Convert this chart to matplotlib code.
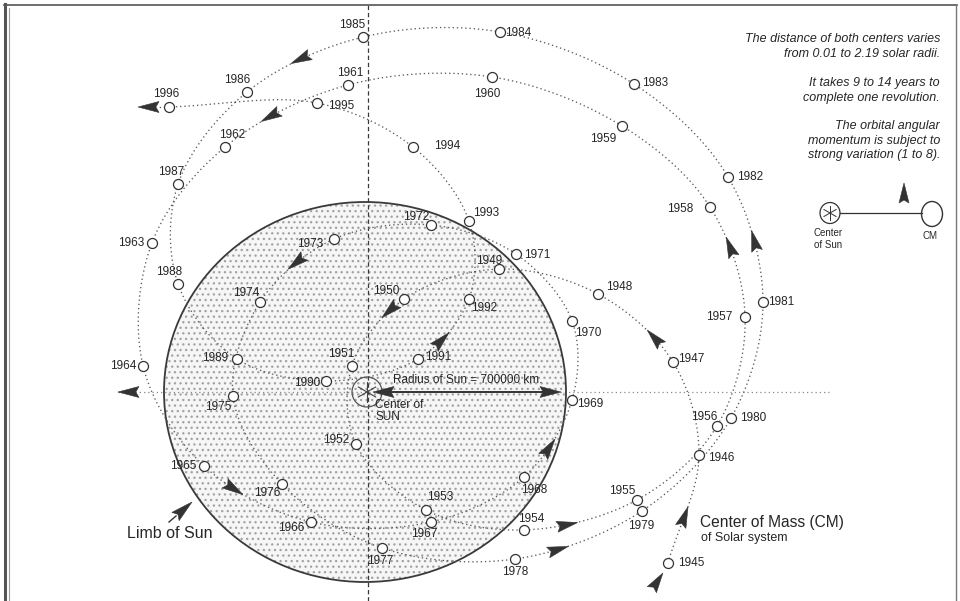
import numpy as np
import matplotlib
matplotlib.use("Agg")
import matplotlib.pyplot as plt
from matplotlib.patches import Circle, Ellipse, Polygon
from matplotlib.lines import Line2D

plt.rcParams["font.family"] = ["Liberation Sans", "DejaVu Sans"]
plt.rcParams["hatch.linewidth"] = 0.9

# Position of the centre of mass of the solar system relative to the
# centre of the Sun, in solar radii (x to the right, y upward), 1945-1996.
years = list(range(1945, 1997))
cm_x = [1.507, 1.662, 1.532, 1.159, 0.667, 0.194, -0.065, -0.045, 0.303, 0.791,
        1.353, 1.751, 1.891, 1.716, 1.279, 0.632, -0.085, -0.697, -1.060, -1.104,
        -0.801, -0.269, 0.328, 0.791, 1.030, 1.030, 0.751, 0.328, -0.154, -0.522,
        -0.657, -0.413, 0.085, 0.746, 1.378, 1.821, 1.980, 1.806, 1.338, 0.672,
        -0.010, -0.587, -0.930, -0.930, -0.637, -0.194, 0.264, 0.517, 0.517, 0.239,
        -0.239, -0.975]
cm_y = [-0.900, -0.332, 0.158, 0.516, 0.647, 0.489, 0.137, -0.274, -0.621, -0.726,
        -0.568, -0.179, 0.395, 0.974, 1.400, 1.658, 1.616, 1.289, 0.784, 0.137,
        -0.389, -0.684, -0.684, -0.447, -0.042, 0.374, 0.726, 0.879, 0.805, 0.474,
        -0.021, -0.484, -0.821, -0.879, -0.626, -0.137, 0.474, 1.132, 1.621, 1.895,
        1.868, 1.579, 1.095, 0.568, 0.174, 0.058, 0.174, 0.489, 0.900, 1.289,
        1.521, 1.500]

# Year label placement, pixel offset from the marker (right, down)
label_offset = {
    1945: (23, 0), 1946: (22, 3), 1947: (18, -3), 1948: (21, -7), 1949: (-10, -8),
    1950: (-18, -8), 1951: (-11, -12), 1952: (-20, -4), 1953: (14, -13), 1954: (7, -11),
    1955: (-15, -9), 1956: (-13, -9), 1957: (-26, 0), 1958: (-30, 2), 1959: (-19, 13),
    1960: (-5, 17), 1961: (2, -12), 1962: (7, -12), 1963: (-21, 0), 1964: (-20, 0),
    1965: (-21, 0), 1966: (-20, 6), 1967: (-7, 12), 1968: (10, 13), 1969: (18, 4),
    1970: (16, 12), 1971: (21, 1), 1972: (-15, -8), 1973: (-24, 5), 1974: (-14, -9),
    1975: (-15, 11), 1976: (-15, 9), 1977: (-2, 13), 1978: (0, 13), 1979: (-1, 15),
    1980: (22, 0), 1981: (18, 0), 1982: (22, 0), 1983: (21, -1), 1984: (18, 1),
    1985: (-11, -12), 1986: (-10, -12), 1987: (-7, -12), 1988: (-9, -12), 1989: (-22, -1),
    1990: (-19, 2), 1991: (20, -2), 1992: (15, 9), 1993: (17, -8), 1994: (34, -1),
    1995: (24, 3), 1996: (-3, -13),
}

# Direction arrows: (year at start of the stretch, fraction along it)
direction_marks = [(1945, 0.43), (1947, 0.31), (1950, 0.22), (1954, 0.38),
                   (1957, 0.62), (1961, 0.6), (1965, 0.32), (1968, 0.42),
                   (1973, 0.46), (1978, 0.33), (1981, 0.48), (1985, 0.51),
                   (1991, 0.38)]

INK = "#262626"
ARROW = "#333333"
W, H = 960, 601

fig = plt.figure(figsize=(W / 100, H / 100), dpi=100)
ax = fig.add_axes([0, 0, 1, 1])
# 1 solar radius = 201 px horizontally, 190 px vertically
ax.set_xlim(-365 / 201, (W - 365) / 201)
ax.set_ylim((392 - H) / 190, 392 / 190)
ax.axis("off")
fig.canvas.draw()

to_px = ax.transData.transform
to_data = ax.transData.inverted().transform


def arrow_head(tip_px, direction, length=20, half=5.0, color=ARROW, z=6):
    d = np.asarray(direction, float)
    d = d / np.hypot(*d)
    n = np.array([-d[1], d[0]])
    tip = np.asarray(tip_px, float)
    base = tip - d * length
    notch = tip - d * length * 0.85
    verts = np.array([tip, base + n * half, notch, base - n * half])
    ax.add_patch(Polygon(to_data(verts), closed=True, facecolor=color,
                         edgecolor=color, lw=0.4, zorder=z))


def cr_segment(p0, p1, p2, p3, u, alpha=0.5):
    def nxt(t, a, b):
        return t + max(np.hypot(*(b - a)), 1e-6) ** alpha
    t0 = 0.0
    t1 = nxt(t0, p0, p1)
    t2 = nxt(t1, p1, p2)
    t3 = nxt(t2, p2, p3)
    t = (t1 + (t2 - t1) * np.asarray(u, float))[:, None]
    a1 = (t1 - t) / (t1 - t0) * p0 + (t - t0) / (t1 - t0) * p1
    a2 = (t2 - t) / (t2 - t1) * p1 + (t - t1) / (t2 - t1) * p2
    a3 = (t3 - t) / (t3 - t2) * p2 + (t - t2) / (t3 - t2) * p3
    b1 = (t2 - t) / (t2 - t0) * a1 + (t - t0) / (t2 - t0) * a2
    b2 = (t3 - t) / (t3 - t1) * a2 + (t - t1) / (t3 - t1) * a3
    return (t2 - t) / (t2 - t1) * b1 + (t - t1) / (t2 - t1) * b2


pts = to_px(np.column_stack([cm_x, cm_y]))
ext = np.vstack([2 * pts[0] - pts[1], pts, 2 * pts[-1] - pts[-2]])


def segment(i, u):
    return cr_segment(*ext[i:i + 4], u)


# ---- Sun disk -------------------------------------------------------------
ax.add_patch(Circle((0, 0), 1, facecolor="#f6f6f6", edgecolor="#a2a2a2",
                    lw=0, hatch="...", zorder=1))
ax.add_patch(Circle((0, 0), 1, facecolor="none", edgecolor="#3a3a3a",
                    lw=1.3, zorder=3))

# ---- reference axes through the Sun's centre -----------------------------
ax.plot([0.015, 0.015], [(392 - H) / 190, 387 / 190], color="#3a3a3a",
        lw=0.9, ls=(0, (3.5, 2.2)), zorder=2)
ax.plot([-1.229, 2.323], [0, 0], color="#8a8a8a", lw=0.9, ls=(0, (1, 2.4)),
        zorder=2)
p0 = to_px([[-1.229, 0]])[0]
arrow_head(p0, (-1, 0), length=21, half=5.5)

# ---- orbit of the centre of mass -----------------------------------------
u = np.linspace(0, 1, 40)
curve = np.vstack([segment(i, u) for i in range(len(years) - 1)])
cdat = to_data(curve)
ax.plot(cdat[:, 0], cdat[:, 1], color="#5a5a5a", lw=0.95,
        ls=(0, (1, 2.2)), zorder=4)

# lead-out after the last year
last = pts[-1]
tail_end = last + np.array([-11, 0])
td = to_data(np.array([last, tail_end]))
ax.plot(td[:, 0], td[:, 1], color="#5a5a5a", lw=0.95, ls=(0, (1, 2.2)), zorder=4)
arrow_head(last + np.array([-31, 0]), (-1, 0), length=21, half=5.5)

# lead-in towards the first year
arrow_head(pts[0] + np.array([-5, -10]), (0.55, 0.83), length=20, half=5.5)

for yr, frac in direction_marks:
    i = years.index(yr)
    a = segment(i, [frac - 0.04, frac + 0.04])
    mid = segment(i, [frac])[0]
    d = a[1] - a[0]
    d = d / np.hypot(*d)
    arrow_head(mid + d * 10, d, length=21, half=5.5)

ax.plot(cm_x, cm_y, ls="none", marker="o", ms=7.2, mfc="white",
        mec="#333333", mew=0.9, zorder=5)

for yr, x, y in zip(years, cm_x, cm_y):
    dx, dy = label_offset[yr]
    ax.annotate(str(yr), (x, y), xytext=(dx, -dy), textcoords="offset pixels",
                ha="center", va="center", fontsize=8.5, color=INK, zorder=7)

# ---- centre of the Sun ----------------------------------------------------
cx = 0.01
ax.add_patch(Ellipse((cx, 0), 30 / 201, 30 / 190, facecolor="none",
                     edgecolor="#555555", lw=0.9, zorder=6))
cpx = to_px([[cx, 0]])[0]
for ang in (90, 30, 150):
    v = np.array([np.cos(np.radians(ang)), np.sin(np.radians(ang))]) * 10
    seg = to_data(np.array([cpx - v, cpx + v]))
    ax.plot(seg[:, 0], seg[:, 1], color="#444444", lw=0.8, zorder=6)

# radius of the Sun
r0 = to_px([[cx, 0]])[0] + [6, 0]
r1 = to_px([[1, 0]])[0] - [5, 0]
rl = to_data(np.array([r0 + [18, 0], r1 - [18, 0]]))
ax.plot(rl[:, 0], rl[:, 1], color="#333333", lw=1.4, zorder=6)
arrow_head(r0, (-1, 0), length=21, half=5.5)
arrow_head(r1, (1, 0), length=21, half=5.5)
ax.annotate("Radius of Sun = 700000 km.", (0.5, 0), xytext=(2.5, 12),
            textcoords="offset pixels", ha="center", va="center",
            fontsize=8.5, color=INK, zorder=7)
ax.annotate("Center of\nSUN", (cx, 0), xytext=(8, -19), textcoords="offset pixels",
            ha="left", va="center", fontsize=8.5, color=INK, linespacing=1.0,
            zorder=7)

# ---- annotations ---------------------------------------------------------
fig.text(170 / W, 1 - 534 / H, "Limb of Sun", ha="center", va="center",
         fontsize=11.5, color=INK)
arrow_head(np.array([192, H - 502.0]), (0.75, 0.66), length=22, half=5.5)
ax.add_line(Line2D([169, 176], [H - 522, H - 516], transform=None,
                   color=ARROW, lw=1.0))

fig.text(700 / W, 1 - 522 / H, "Center of Mass (CM)", ha="left", va="center",
         fontsize=11.2, color=INK)
fig.text(701 / W, 1 - 538 / H, "of Solar system", ha="left", va="center",
         fontsize=9, color=INK)

notes = ["The distance of both centers varies\nfrom 0.01 to 2.19 solar radii.",
         "It takes 9 to 14 years to\ncomplete one revolution.",
         "The orbital angular\nmomentum is subject to\nstrong variation (1 to 8)."]
note_top = [33, 77, 120]
for txt, top in zip(notes, note_top):
    fig.text(940 / W, 1 - top / H, txt, ha="right", va="top", fontsize=9,
             style="italic", color=INK, linespacing=1.3)

# ---- small key: Sun centre, CM and sense of motion ------------------------
key_y = H - 213
fig.add_artist(Ellipse((830, key_y), 20, 21, transform=None, facecolor="none",
                       edgecolor="#333333", lw=0.9))
for ang in (90, 30, 150):
    v = np.array([np.cos(np.radians(ang)), np.sin(np.radians(ang))]) * 7
    fig.add_artist(Line2D([830 - v[0], 830 + v[0]], [key_y - v[1], key_y + v[1]],
                          transform=None, color="#333333", lw=0.7))
fig.add_artist(Line2D([840, 922], [key_y, key_y], transform=None,
                      color="#333333", lw=0.9))
fig.add_artist(Ellipse((932, key_y - 1), 21, 25, transform=None,
                       facecolor="none", edgecolor="#333333", lw=1.0))
fig.add_artist(Polygon([[904, H - 183], [899, H - 203], [904, H - 200], [909, H - 203]],
                       closed=True, transform=None, facecolor=ARROW,
                       edgecolor=ARROW, lw=0.4))
fig.text(828 / W, 1 - 239 / H, "Center\nof Sun", ha="center", va="center",
         fontsize=7, color=INK, linespacing=1.3)
fig.text(930 / W, 1 - 236 / H, "CM", ha="center", va="center", fontsize=7,
         color=INK)

# ---- frame ----------------------------------------------------------------
fig.add_artist(Line2D([5, 5], [0, H - 4], transform=None, color="#555555", lw=2.2))
fig.add_artist(Line2D([9, 9], [0, H - 8], transform=None, color="#9a9a9a", lw=0.8))
fig.add_artist(Line2D([4, 957], [H - 5, H - 5], transform=None, color="#555555",
                      lw=1.2))
fig.add_artist(Line2D([956, 956], [0, H - 5], transform=None, color="#777777",
                      lw=1.0))

fig.savefig("out.png", dpi=100)
